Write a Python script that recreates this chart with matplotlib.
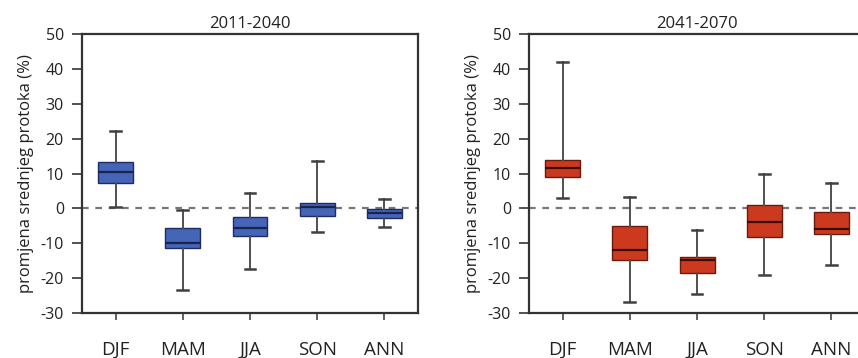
import matplotlib
matplotlib.use("Agg")
import matplotlib.pyplot as plt

# ---------------------------
# data (percent change of mean flow)
# ---------------------------
seasons = ["DJF", "MAM", "JJA", "SON", "ANN"]
periods = ["2011-2040", "2041-2070"]

# 2011-2040
p1_low = [0.5, -23.3, -17.4, -6.8, -5.2]
p1_q1 = [7.2, -11.3, -7.9, -2.2, -2.7]
p1_med = [10.4, -9.8, -5.6, 0.5, -1.2]
p1_q3 = [13.3, -5.5, -2.5, 1.6, -0.2]
p1_high = [22.2, -0.6, 4.3, 13.6, 2.6]

# 2041-2070
p2_low = [3.1, -26.9, -24.6, -19.0, -16.3]
p2_q1 = [9.0, -14.9, -18.4, -8.2, -7.3]
p2_med = [11.5, -11.8, -14.9, -4.0, -5.8]
p2_q3 = [13.8, -5.1, -13.8, 0.9, -1.0]
p2_high = [42.0, 3.2, -6.1, 9.9, 7.2]

y_ticks = [50, 40, 30, 20, 10, 0, -10, -20, -30]

plt.rcParams['font.family'] = ['Open Sans', 'DejaVu Sans']
plt.rcParams['axes.unicode_minus'] = False

fig = plt.figure(figsize=(8.58, 3.58), dpi=100)
ax1 = fig.add_axes([0.0956, 0.1257, 0.3916, 0.7793])
ax2 = fig.add_axes([0.6166, 0.1257, 0.3916, 0.7793])

panels = [
    (ax1, periods[0], (p1_low, p1_q1, p1_med, p1_q3, p1_high), "#4565b7", "#1e2c63", "#1a2350"),
    (ax2, periods[1], (p2_low, p2_q1, p2_med, p2_q3, p2_high), "#cb3a1f", "#6b1a0e", "#3a0c06"),
]

for ax, title, vals, face, edge, medc in panels:
    low, q1, med, q3, high = vals
    stats = []
    for i in range(len(seasons)):
        stats.append({"whislo": low[i], "q1": q1[i], "med": med[i],
                      "q3": q3[i], "whishi": high[i], "fliers": []})
    ax.axhline(0, ls=(0, (3, 3)), color="#777777", lw=1.6, zorder=0)
    ax.bxp(stats, positions=range(1, 6), widths=0.52, patch_artist=True,
           showfliers=False,
           boxprops=dict(facecolor=face, edgecolor=edge, linewidth=1.0),
           medianprops=dict(color=medc, linewidth=1.6),
           whiskerprops=dict(color="#505050", linewidth=1.4),
           capprops=dict(color="#404040", linewidth=1.8),
           capwidths=0.16)
    ax.set_xlim(0.5, 5.5)
    ax.set_ylim(-30, 50)
    ax.set_yticks(y_ticks)
    ax.set_xticks(range(1, 6))
    ax.set_xticklabels(seasons, fontsize=13.5, color="#222222")
    ax.tick_params(axis='y', length=7, width=1.3, pad=6, labelsize=11.5,
                   colors="#444444", labelcolor="#222222")
    ax.tick_params(axis='x', length=5, width=1.3, pad=15, colors="#555555",
                   labelcolor="#222222")
    for s in ax.spines.values():
        s.set_linewidth(1.6)
        s.set_color("#333333")
    ax.set_title(title, fontsize=12, pad=4, color="#222222")
    ax.set_ylabel("promjena srednjeg protoka (%)", fontsize=12,
                  color="#222222", labelpad=5)

fig.savefig("out.png", dpi=100)
